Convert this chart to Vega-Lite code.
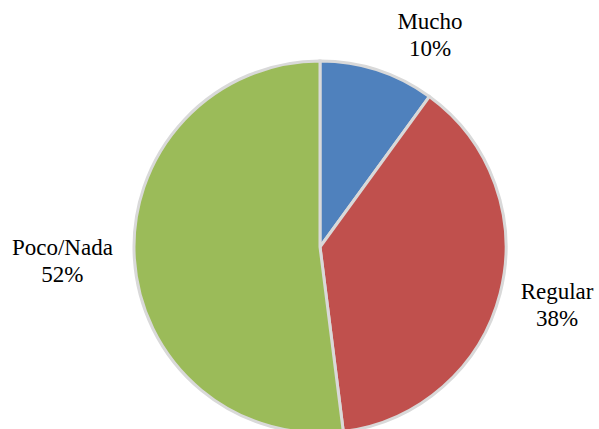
{
  "$schema": "https://vega.github.io/schema/vega-lite/v6.json",
  "autosize": {"type": "none"},
  "padding": {"left": 134, "top": 61, "right": 93, "bottom": 0},
  "width": 372,
  "height": 372,
  "background": "white",
  "view": {"stroke": null},
  "config": {"font": "Liberation Serif", "text": {"font": "Liberation Serif"}},
  "data": {"values": [
    {"cat": "Mucho", "value": 10, "idx": 1},
    {"cat": "Regular", "value": 38, "idx": 2},
    {"cat": "Poco/Nada", "value": 52, "idx": 3}
  ]},
  "transform": [
    {"stack": "value", "groupby": [], "sort": [{"field": "idx", "order": "ascending"}], "as": ["v0", "v1"]},
    {"calculate": "(datum.v0 + datum.v1) / 2", "as": "mid"},
    {"calculate": "datum.cat + '\\n' + datum.value + '%'", "as": "label"}
  ],
  "layer": [
    {"mark": {"type": "arc", "outerRadius": 186, "stroke": "#d9d9d9", "strokeWidth": 3},
     "encoding": {
       "theta": {"field": "v0", "type": "quantitative", "scale": {"domain": [0, 100]}},
       "theta2": {"field": "v1"},
       "color": {"field": "cat", "type": "nominal", "legend": null,
         "scale": {"domain": ["Mucho", "Regular", "Poco/Nada"], "range": ["#4F81BD", "#C0504D", "#9BBB59"]}}
     }},
    {"transform": [{"filter": "datum.cat == 'Mucho'"}],
     "mark": {"type": "text", "radius": 239, "thetaOffset": 0.164, "dy": -13, "font": "Times New Roman", "fontSize": 23, "lineBreak": "\n", "lineHeight": 27, "baseline": "middle", "align": "center", "color": "black"},
     "encoding": {"theta": {"field": "mid", "type": "quantitative", "scale": {"domain": [0, 100]}}, "text": {"field": "label"}}},
    {"transform": [{"filter": "datum.cat == 'Regular'"}],
     "mark": {"type": "text", "radius": 244, "thetaOffset": -0.012, "dy": -13, "font": "Times New Roman", "fontSize": 23, "lineBreak": "\n", "lineHeight": 27, "baseline": "middle", "align": "center", "color": "black"},
     "encoding": {"theta": {"field": "mid", "type": "quantitative", "scale": {"domain": [0, 100]}}, "text": {"field": "label"}}},
    {"transform": [{"filter": "datum.cat == 'Poco/Nada'"}],
     "mark": {"type": "text", "radius": 258, "thetaOffset": 0.009, "dy": -13, "font": "Times New Roman", "fontSize": 23, "lineBreak": "\n", "lineHeight": 27, "baseline": "middle", "align": "center", "color": "black"},
     "encoding": {"theta": {"field": "mid", "type": "quantitative", "scale": {"domain": [0, 100]}}, "text": {"field": "label"}}}
  ]
}
